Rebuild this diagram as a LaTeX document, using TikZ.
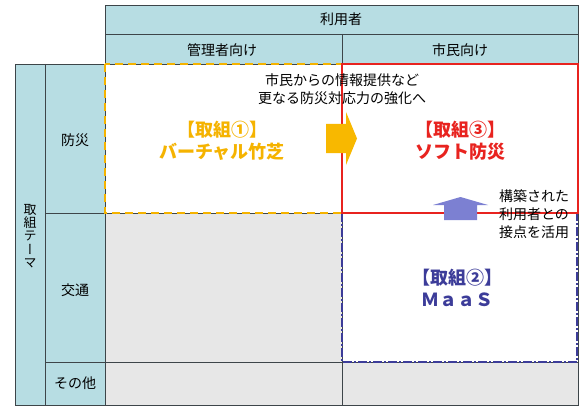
\documentclass[tikz,border=0pt]{standalone}
\usepackage{fontspec}
\setmainfont{Noto Sans CJK JP}
\newfontfamily\jpv[RawFeature=+vert]{Noto Sans CJK JP}
\definecolor{hdr}{HTML}{B7DDE3}
\definecolor{gridc}{HTML}{3D4549}
\definecolor{cellgray}{HTML}{E7E7E7}
\definecolor{yel}{HTML}{F5B300}
\definecolor{arrowyel}{HTML}{F8B800}
\definecolor{redc}{HTML}{E8231F}
\definecolor{bluet}{HTML}{3C3C99}
\definecolor{bluea}{HTML}{7C80D2}
\tikzset{
  gridline/.style={draw=gridc, line width=0.8pt},
  hdrtext/.style={font=\fontsize{14}{17}\selectfont, text=black, inner sep=0pt},
  notetext/.style={font=\fontsize{14}{18}\selectfont, text=black, inner sep=0pt, align=center},
  labeltext/.style={font=\fontsize{18}{22}\selectfont\bfseries, inner sep=0pt, align=center},
}
\begin{document}
\begin{tikzpicture}[x=1pt,y=-1pt]
\useasboundingbox (0,0) rectangle (585,406);
% fills
\fill[hdr] (105,5) rectangle (578,64);
\fill[hdr] (15,64) rectangle (105,406);
\fill[white] (105,64) rectangle (578,213);
\fill[white] (342,213) rectangle (578,362);
\fill[cellgray] (105,213) rectangle (342,362);
\fill[cellgray] (105,362) rectangle (578,406);
% grid
\draw[gridline] (105,5) rectangle (578,64);
\draw[gridline] (105,34) -- (578,34);
\draw[gridline] (342,34) -- (342,64);
\draw[gridline] (15,64) rectangle (105,405.5);
\draw[gridline] (45,64) -- (45,405.5);
\draw[gridline] (45,213) -- (578,213);
\draw[gridline] (45,362) -- (578,362);
\draw[gridline] (342,64) -- (342,405.5);
\draw[gridline] (578,64) -- (578,405.5);
\draw[gridline] (105,405.5) -- (578,405.5);
% highlight boxes
\draw[bluet, line width=1.8pt, dash pattern=on 9pt off 2pt on 2pt off 2pt] (342,213) rectangle (577,362);
\draw[yel, line width=1.8pt, dash pattern=on 8pt off 5pt] (105,64) rectangle (342,213);
\draw[redc, line width=1.6pt] (342,64) rectangle (578,213);
% arrows
\fill[arrowyel] (326,124) -- (346,124) -- (346,112) -- (357,138.5) -- (346,165) -- (346,153) -- (326,153) -- cycle;
\fill[bluea] (444,220) -- (444,205) -- (433,205) -- (460.5,197) -- (488,205) -- (477,205) -- (477,220) -- cycle;
% header texts
\node[hdrtext] (usr) at (341,19) {利用者};
\node[hdrtext] (mgr) at (222,50) {管理者向け};
\node[hdrtext] (cit) at (460,50) {市民向け};
% row texts
\node[hdrtext, align=center, font=\fontsize{13}{13.4}\selectfont\jpv] (theme) at (30,236) {取\\組\\テ\\ー\\マ};
\node[hdrtext] (bousai) at (75,140) {防災};
\node[hdrtext] (koutsu) at (75,290) {交通};
\node[hdrtext] (sonota) at (75,383) {その他};
% notes
\node[notetext] (note1) at (342,89) {市民からの情報提供など\\更なる防災対応力の強化へ};
\node[notetext, align=left] (note2) at (534,214) {構築された\\利用者との\\接点を活用};
% labels
\node[labeltext, text=yel] (t1) at (222,141) {【取組①】\\バーチャル竹芝};
\node[labeltext, text=redc] (t3) at (460,141) {【取組③】\\ソフト防災};
\node[labeltext, text=bluet] (t2) at (457,288) {【取組②】\\ＭａａＳ};
\end{tikzpicture}
\end{document}
